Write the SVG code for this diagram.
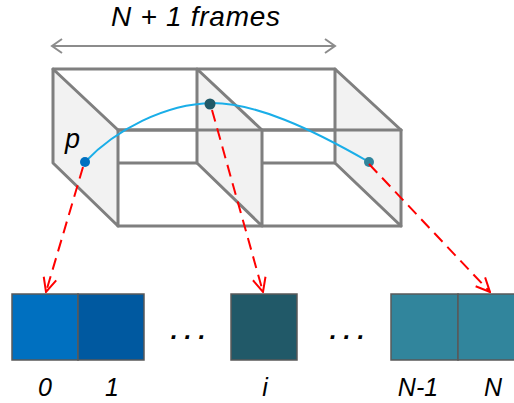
<svg xmlns="http://www.w3.org/2000/svg" width="514" height="403" viewBox="0 0 514 403">
<defs>
<style>
.t{font-family:"Liberation Sans",Arial,sans-serif;font-style:italic;fill:#000}
.fr{fill:none;stroke:#7f7f7f;stroke-width:3;stroke-linejoin:round;stroke-linecap:round}
.pn{fill:#f2f2f2;stroke:#7f7f7f;stroke-width:3;stroke-linejoin:round}
.bx{stroke:#595959;stroke-width:1.5}
.rd{fill:none;stroke:#ff0000;stroke-width:2;stroke-dasharray:12 7}
</style>
<marker id="ra" viewBox="0 0 16 16" refX="15" refY="8" markerWidth="16" markerHeight="16" markerUnits="userSpaceOnUse" orient="auto">
<path d="M1,1.5 L15,8 L1,14.5" fill="none" stroke="#ff0000" stroke-width="2"/>
</marker>
</defs>
<text class="t" x="111" y="26" font-size="28" textLength="169">N + 1 frames</text>
<g id="span">
<path d="M52,46 H335 M62,39 L52,46 L62,53 M325,39 L335,46 L325,53" fill="none" stroke="#8c8c8c" stroke-width="2"/>
</g>
<g id="volume">
<path class="fr" d="M53,69 H335 M118,130 H401 M118,226 H401 M118,163 H335"/>
<path class="pn" d="M53,69 L118,130 L118,226 L53,163 Z"/>
<path class="pn" d="M197,69 L262,130 L262,226 L197,163 Z"/>
<path class="pn" d="M335,69 L401,130 L401,226 L335,163 Z"/>
<path class="fr" d="M118,130 H401"/>
</g>
<g id="trajectory">
<path d="M85,162 C115,130 165,104 212,103 C255,103 310,128 369,162" fill="none" stroke="#1aaee8" stroke-width="2"/>
<circle cx="85" cy="162" r="5" fill="#0070c0"/>
<circle cx="210" cy="104" r="5.5" fill="#215968"/>
<circle cx="369" cy="162" r="5" fill="#31859c"/>
<text class="t" x="65" y="148" font-size="27">p</text>
</g>
<g id="connectors">
<path class="rd" d="M83,167 L46,292" marker-end="url(#ra)"/>
<path class="rd" d="M212,110 L263,292" marker-end="url(#ra)"/>
<path class="rd" d="M369,164 L490,292" marker-end="url(#ra)"/>
</g>
<g id="cell0"><rect class="bx" x="12" y="294" width="66" height="66" fill="#0070c0"/><text class="t" x="45" y="396" font-size="25" text-anchor="middle">0</text></g>
<g id="cell1"><rect class="bx" x="78" y="294" width="66" height="66" fill="#0059a0"/><text class="t" x="112" y="396" font-size="25" text-anchor="middle">1</text></g>
<text class="t" x="188" y="339" font-size="25" font-weight="bold" text-anchor="middle">. . .</text>
<g id="celli"><rect class="bx" x="231" y="294" width="66" height="66" fill="#215968"/><text class="t" x="265" y="396" font-size="25" text-anchor="middle">i</text></g>
<text class="t" x="347" y="339" font-size="25" font-weight="bold" text-anchor="middle">. . .</text>
<g id="cellN1"><rect class="bx" x="391" y="294" width="67" height="66" fill="#31859c"/><text class="t" x="418" y="396" font-size="25" text-anchor="middle">N-1</text></g>
<g id="cellN"><rect class="bx" x="458" y="294" width="66" height="66" fill="#31859c"/><text class="t" x="493" y="396" font-size="25" text-anchor="middle">N</text></g>
</svg>
